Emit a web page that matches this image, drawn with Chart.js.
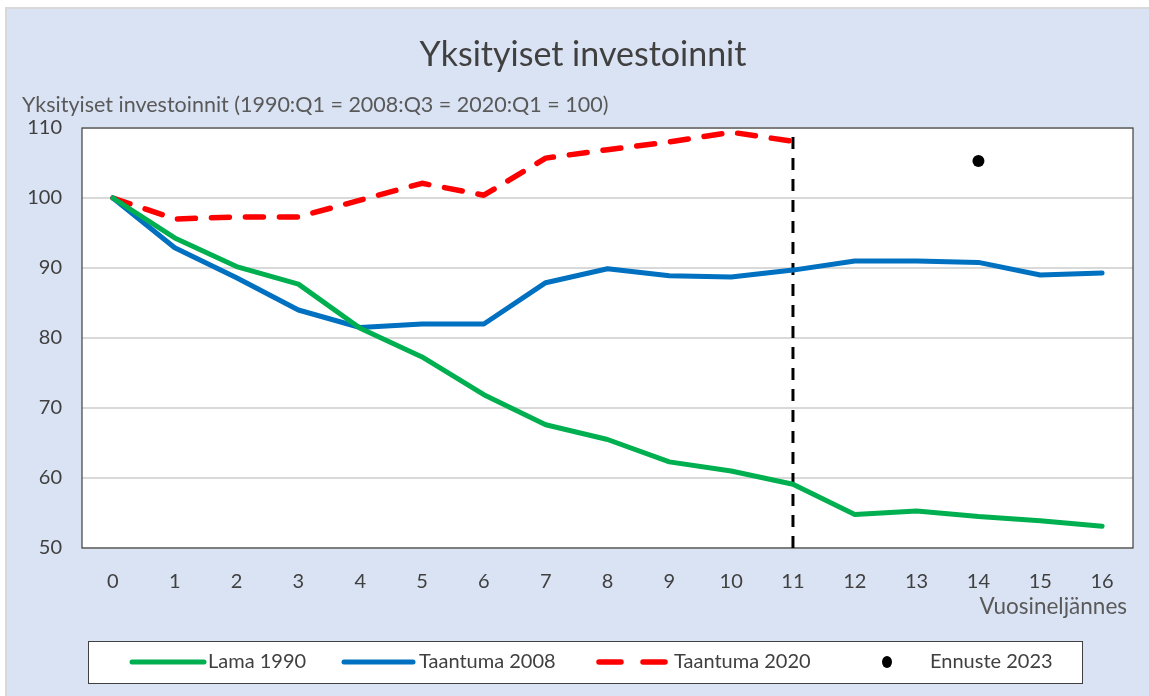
<!DOCTYPE html>
<html>
<head>
<meta charset="utf-8">
<script src="https://cdn.jsdelivr.net/npm/chart.js@4.4.1/dist/chart.umd.min.js"></script>
<style>
  html, body { margin: 0; padding: 0; background: #ffffff; }
  #wrap { position: relative; width: 1149px; height: 696px; }
</style>
</head>
<body>
<div id="wrap"><canvas id="invChart" width="1149" height="696"></canvas></div>
<script>
/* ---------------- DATA ---------------- */
const quarters = ["0", "1", "2", "3", "4", "5", "6", "7", "8", "9", "10", "11", "12", "13", "14", "15", "16"];

const lama1990 = [100, 94.3, 90.2, 87.7, 81.4, 77.3, 71.9, 67.6, 65.5, 62.3, 61.0, 59.1, 54.8, 55.3, 54.5, 53.9, 53.1];
const taantuma2008 = [100, 92.9, 88.6, 84.0, 81.5, 82.0, 82.0, 87.9, 89.9, 88.9, 88.7, 89.7, 91.0, 91.0, 90.8, 89.0, 89.3];
const taantuma2020 = [100, 97.0, 97.3, 97.3, 99.7, 102.1, 100.4, 105.7, 106.9, 108.0, 109.4, 108.1];
const ennuste2023 = [null, null, null, null, null, null, null, null, null, null, null, null, null, null, 105.3, null, null];

const markerQuarter = "11";
const yTicks = [50, 60, 70, 80, 90, 100, 110];

const FONT = "Lato, 'Noto Sans', sans-serif";

/* ---------------- DECORATION PLUGIN ---------------- */
const frame = {
    id: "frame",
    beforeDraw(chart) {
        const c = chart.ctx;
        const a = chart.chartArea;
        c.save();
        c.fillStyle = "#d9d9d9";
        c.fillRect(5, 7, chart.width - 5, chart.height - 7);
        c.fillStyle = "#dae3f3";
        c.fillRect(7, 9, chart.width - 7, chart.height - 9);
        c.fillStyle = "#ffffff";
        c.fillRect(a.left, a.top, a.right - a.left, a.bottom - a.top);

        // title + axis texts
        c.fillStyle = "#404040";
        c.textBaseline = "middle";
        c.textAlign = "center";
        c.font = "34px " + FONT;
        c.fillText("Yksityiset investoinnit", 583, 55);

        c.fillStyle = "#595959";
        c.textAlign = "left";
        c.font = "21.5px " + FONT;
        c.fillText("Yksityiset investoinnit (1990:Q1 = 2008:Q3 = 2020:Q1 = 100)", 22, 105);

        c.font = "22.5px " + FONT;
        c.textAlign = "right";
        c.fillText("Vuosineljännes", 1127, 607);
        c.restore();
    },
    beforeDatasetsDraw(chart) {
        const c = chart.ctx;
        const a = chart.chartArea;
        c.save();
        c.strokeStyle = "#404040";
        c.lineWidth = 1.2;
        c.strokeRect(a.left, a.top, a.right - a.left, a.bottom - a.top);
        c.restore();
    },
    afterDraw(chart) {
        // legend box
        const c = chart.ctx;
        const ds = chart.data.datasets;
        const boxL = 88, boxT = 641, boxR = 1082, boxB = 683;
        const cy = (boxT + boxB) / 2;
        c.save();
        c.fillStyle = "#ffffff";
        c.fillRect(boxL, boxT, boxR - boxL, boxB - boxT);
        c.strokeStyle = "#404040";
        c.lineWidth = 1;
        c.strokeRect(boxL + 0.5, boxT + 0.5, boxR - boxL, boxB - boxT);

        const items = [
            { d: ds[0], x0: 132, x1: 204, tx: 208 },
            { d: ds[1], x0: 344, x1: 413, tx: 419 },
            { d: ds[2], x0: 599, x1: 667, tx: 674 },
            { d: ds[3], x0: 887, x1: 887, tx: 930 }
        ];
        c.font = "20px " + FONT;
        c.textBaseline = "middle";
        c.textAlign = "left";
        items.forEach(it => {
            if (it.d.showLine === false) {
                c.fillStyle = it.d.pointBackgroundColor;
                c.beginPath();
                c.ellipse(it.x0, cy, 5, 6, 0, 0, Math.PI * 2);
                c.fill();
            } else {
                c.strokeStyle = it.d.borderColor;
                c.lineWidth = it.d.borderWidth;
                c.lineCap = "round";
                c.setLineDash(it.d.borderDash ? [22, 22] : []);
                c.beginPath();
                c.moveTo(it.x0, cy);
                c.lineTo(it.x1, cy);
                c.stroke();
                c.setLineDash([]);
            }
            c.fillStyle = "#404040";
            c.fillText(it.d.label, it.tx, cy);
        });
        c.restore();
    }
};

/* ---------------- CHART ---------------- */
const ctx = document.getElementById("invChart");

const invChart = new Chart(ctx, {
    type: "line",
    data: {
        labels: quarters,
        datasets: [
            {
                label: "Lama 1990",
                data: lama1990,
                borderColor: "#00b050",
                borderWidth: 5,
                pointRadius: 0,
                borderJoinStyle: "round",
                borderCapStyle: "round"
            },
            {
                label: "Taantuma 2008",
                data: taantuma2008,
                borderColor: "#0070c0",
                borderWidth: 5,
                pointRadius: 0,
                borderJoinStyle: "round",
                borderCapStyle: "round"
            },
            {
                label: "Taantuma 2020",
                data: taantuma2020,
                borderColor: "#ff0000",
                borderWidth: 5.5,
                borderDash: [18, 16],
                borderCapStyle: "round",
                borderJoinStyle: "round",
                pointRadius: 0
            },
            {
                label: "Ennuste 2023",
                data: ennuste2023,
                showLine: false,
                pointRadius: 6,
                pointBackgroundColor: "#000000",
                pointBorderWidth: 0
            },
            {
                label: "marker",
                data: [{ x: markerQuarter, y: 50 }, { x: markerQuarter, y: 110 }],
                borderColor: "#000000",
                borderWidth: 3,
                borderDash: [12, 9],
                pointRadius: 0
            }
        ]
    },
    options: {
        responsive: false,
        animation: false,
        layout: { padding: { left: 0, right: 16, top: 128, bottom: 0 } },
        plugins: {
            legend: { display: false },
            title: { display: false },
            tooltip: { enabled: false }
        },
        scales: {
            x: {
                type: "category",
                offset: true,
                grid: { display: false },
                border: { display: false },
                ticks: {
                    color: "#404040",
                    font: { family: FONT, size: 20 },
                    padding: 14,
                    maxRotation: 0,
                    autoSkip: false
                },
                afterFit(scale) { scale.height = 148; }
            },
            y: {
                min: 50,
                max: 110,
                afterBuildTicks(scale) { scale.ticks = yTicks.map(v => ({ value: v })); },
                grid: { color: "#d9d9d9", lineWidth: 2, drawTicks: false },
                border: { display: false },
                ticks: {
                    color: "#404040",
                    font: { family: FONT, size: 20 },
                    padding: 20
                },
                afterFit(scale) { scale.width = 82; }
            }
        }
    },
    plugins: [frame]
});
</script>
</body>
</html>
